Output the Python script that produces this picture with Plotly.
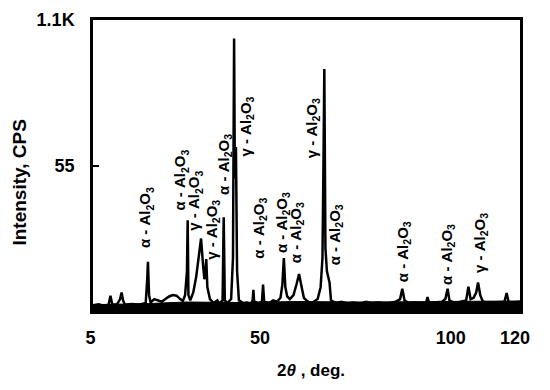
import plotly.graph_objects as go

# 2-theta (deg) and intensity (CPS)
two_theta = [5.0, 6.5, 8.0, 9.2, 9.7, 10.2, 11.5, 12.3, 12.7, 13.1, 13.6, 15.5, 17.5, 19.2, 19.6, 19.8,
             20.1, 20.5, 21.5, 22.5, 23.5, 24.5, 25.5, 26.5, 27.5, 28.5, 29.2, 29.8, 30.3, 30.5, 30.7,
             31.2, 32.0, 32.8, 33.5, 34.1, 34.6, 35.0, 35.3, 35.5, 35.8, 36.5, 37.5, 38.5, 39.0, 39.9,
             40.2, 40.5, 41.2, 42.2, 42.7, 43.0, 43.2, 43.5, 43.8, 44.3, 45.5, 46.5, 47.5, 48.0, 48.2,
             48.4, 49.5, 50.5, 50.8, 51.1, 52.5, 53.5, 54.5, 55.5, 56.0, 56.4, 56.8, 57.3, 58.0, 59.0,
             59.8, 60.5, 61.2, 61.8, 62.5, 63.5, 64.5, 65.5, 66.3, 66.8, 67.1, 67.3, 67.6, 68.0, 68.7,
             69.1, 70.5, 72.0, 73.5, 75.0, 77.0, 78.5, 80.0, 82.0, 83.5, 85.0, 86.5, 87.7, 88.3, 88.9,
             90.0, 91.5, 93.0, 94.7, 95.1, 95.5, 97.0, 99.0, 99.9, 100.5, 101.0, 102.5, 104.0, 105.5,
             106.1, 106.7, 107.5, 108.2, 108.7, 109.3, 110.0, 112.0, 114.0, 115.8, 116.4, 117.0, 118.5, 120.0]
intensity = [22, 25, 20, 24, 58, 24, 26, 45, 70, 40, 24, 26, 24, 30, 120, 186,
             60, 32, 45, 40, 35, 45, 55, 60, 58, 45, 38, 60, 150, 343, 60,
             40, 70, 130, 220, 274, 180, 120, 150, 196, 90, 45, 30, 40, 28, 40,
             354, 40, 30, 45, 200, 1030, 500, 620, 150, 40, 30, 32, 28, 40, 80,
             35, 30, 35, 100, 35, 30, 40, 35, 50, 100, 200, 90, 55, 45, 60,
             100, 140, 90, 50, 40, 30, 35, 45, 90, 200, 600, 915, 237, 150, 108,
             40, 30, 35, 28, 32, 28, 35, 30, 32, 28, 30, 35, 45, 84, 40,
             30, 32, 28, 30, 53, 30, 32, 35, 45, 84, 40, 30, 35, 40,
             92, 45, 50, 70, 108, 60, 35, 30, 32, 35, 68, 30, 32, 35]

# dense noise floor (background band)
bg_theta = [5, 20, 30, 45, 60, 75, 90, 105, 120]
bg_level = [24, 28, 34, 32, 36, 34, 35, 37, 38]

# peak labels: phase, 2-theta, label centre height (CPS)
label_phase = ["α", "α", "γ", "γ", "α", "γ", "α", "α", "α", "γ", "α", "α", "α", "γ"]
label_theta = [19.2, 28.7, 32.5, 37.0, 40.4, 46.4, 49.9, 55.9, 60.0, 64.2, 70.3, 88.7, 100.5, 109.3]
label_y = [354, 493, 417, 306, 554, 696, 314, 336, 295, 690, 288, 225, 214, 258]

x_ticks = [5, 50, 100, 120]
x_ticktext = ["5&nbsp;", "50", "&nbsp;&nbsp;100", "120&nbsp;&nbsp;"]
y_ticks = [550, 1100]
y_ticktext = ["55", "1.1K"]

FONT = "Liberation Sans, Arial, sans-serif"

fig = go.Figure()
fig.add_trace(go.Scatter(x=bg_theta, y=bg_level, mode="lines", fill="tozeroy",
                         fillcolor="black", line=dict(color="black", width=1),
                         hoverinfo="skip"))
fig.add_trace(go.Scatter(x=two_theta, y=intensity, mode="lines",
                         line=dict(color="black", width=2.5), hoverinfo="skip"))

for ph, t, yv in zip(label_phase, label_theta, label_y):
    fig.add_annotation(x=t, y=yv, xref="x", yref="y", showarrow=False,
                       text=f"<b>{ph} - Al<sub>2</sub>O<sub>3</sub></b>", textangle=-90,
                       xanchor="center", yanchor="middle",
                       font=dict(family=FONT, size=15, color="black"))

fig.add_annotation(xref="paper", yref="paper", x=-0.172, y=0.44, showarrow=False,
                   text="<b>Intensity, CPS</b>", textangle=-90,
                   xanchor="center", yanchor="middle",
                   font=dict(family=FONT, size=19, color="black"))
fig.add_annotation(xref="paper", yref="paper", x=0.51, y=-0.205, showarrow=False,
                   text="<b>2<i>θ</i> , deg.</b>",
                   xanchor="center", yanchor="middle",
                   font=dict(family=FONT, size=17, color="black"))

fig.update_layout(
    width=550, height=390,
    margin=dict(l=93, r=10, t=13, b=79),
    paper_bgcolor="white", plot_bgcolor="white",
    showlegend=False,
    font=dict(family=FONT, color="black"),
    xaxis=dict(range=[5, 120], tickvals=x_ticks, ticktext=x_ticktext,
               showgrid=False, zeroline=False, showline=True, linecolor="black",
               linewidth=3, mirror=True, ticks="", ticklabelstandoff=8,
               ticklabeloverflow="allow",
               tickfont=dict(family=FONT, size=18, color="black", weight="bold")),
    yaxis=dict(range=[0, 1100], tickvals=y_ticks, ticktext=y_ticktext,
               showgrid=False, zeroline=False, showline=True, linecolor="black",
               linewidth=2.5, mirror=True, ticks="inside", ticklen=6, tickwidth=2,
               tickcolor="black", ticklabelstandoff=12,
               tickfont=dict(family=FONT, size=18, color="black", weight="bold")),
)

fig.write_html("out.html", config={"displayModeBar": False},
               post_script="document.body.style.margin='0';document.body.style.overflow='hidden';")
